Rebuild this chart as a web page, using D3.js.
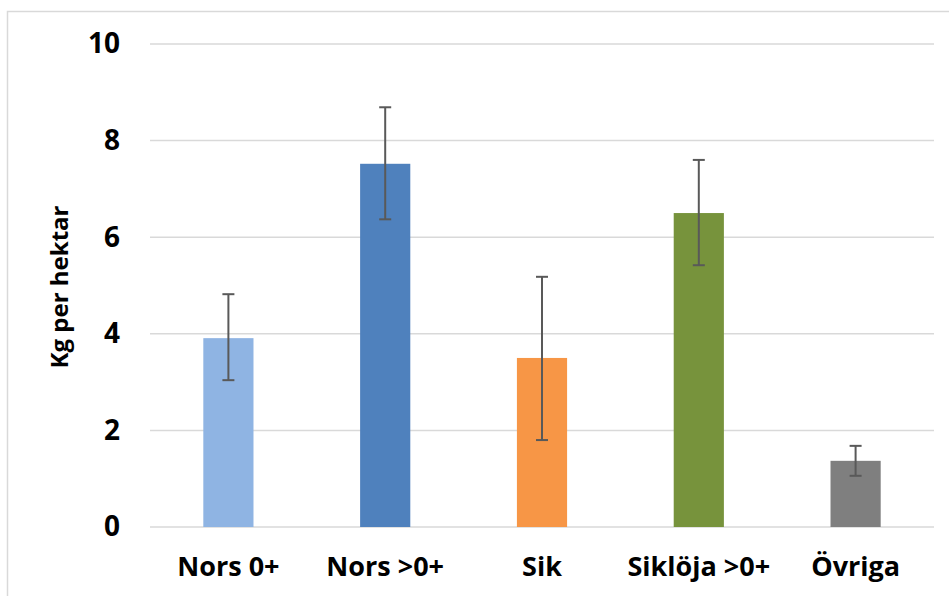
<!DOCTYPE html>
<html>
<head>
<meta charset="utf-8">
<script src="https://cdn.jsdelivr.net/npm/d3@7"></script>
<style>
  body { margin: 0; background: #fff; }
  svg { display: block; font-family: "Open Sans", "Liberation Sans", sans-serif; }
</style>
</head>
<body>
<div id="chart"></div>
<script>
// Data
const categories = ["Nors 0+", "Nors >0+", "Sik", "Siklöja >0+", "Övriga"];
const values = [3.91, 7.52, 3.50, 6.50, 1.37];
const errLow = [3.04, 6.37, 1.80, 5.42, 1.06];
const errHigh = [4.82, 8.69, 5.18, 7.60, 1.68];
const colors = ["#8fb4e3", "#4f81bd", "#f79646", "#77933c", "#7f7f7f"];
const yTicks = [0, 2, 4, 6, 8, 10];

const W = 949, H = 596;
const margin = { top: 44, right: 15, bottom: 69, left: 150 };
const width = W - margin.left - margin.right;
const height = H - margin.top - margin.bottom;
const font = "Open Sans, Liberation Sans, sans-serif";

const svg = d3.select("#chart").append("svg")
  .attr("width", W)
  .attr("height", H);

// outer chart border
svg.append("rect")
  .attr("x", 7.5).attr("y", 11.5)
  .attr("width", W).attr("height", H)
  .attr("fill", "none")
  .attr("stroke", "#d9d9d9")
  .attr("stroke-width", 1.5);

const g = svg.append("g")
  .attr("transform", `translate(${margin.left},${margin.top})`);

const x = d3.scaleBand().domain(categories).range([0, width]).paddingInner(0.68).paddingOuter(0.34);
const y = d3.scaleLinear().domain([0, 10]).range([height, 0]);

// gridlines
g.append("g").selectAll("line")
  .data(yTicks)
  .join("line")
    .attr("x1", 0).attr("x2", width)
    .attr("y1", d => y(d)).attr("y2", d => y(d))
    .attr("stroke", "#d9d9d9")
    .attr("stroke-width", 1.5);

// y axis labels
const yAxis = d3.axisLeft(y).tickValues(yTicks).tickSize(0).tickPadding(30);
g.append("g").call(yAxis)
  .call(s => s.select(".domain").remove())
  .selectAll("text")
    .attr("font-size", 28)
    .attr("font-weight", "bold")
    .attr("fill", "#000")
    .attr("font-family", font);

// x axis labels
const xAxis = d3.axisBottom(x).tickSize(0).tickPadding(30);
g.append("g")
  .attr("transform", `translate(0,${height})`)
  .call(xAxis)
  .call(s => s.select(".domain").remove())
  .selectAll("text")
    .attr("font-size", 27)
    .attr("font-weight", "bold")
    .attr("fill", "#000")
    .attr("font-family", font);

// bars
g.append("g").selectAll("rect")
  .data(categories)
  .join("rect")
    .attr("x", d => x(d))
    .attr("width", x.bandwidth())
    .attr("y", (d, i) => y(values[i]))
    .attr("height", (d, i) => y(0) - y(values[i]))
    .attr("fill", (d, i) => colors[i]);

// error bars
const eb = g.append("g").attr("stroke", "#595959").attr("stroke-width", 2);
categories.forEach((c, i) => {
  const cx = x(c) + x.bandwidth() / 2;
  eb.append("line")
    .attr("x1", cx).attr("x2", cx)
    .attr("y1", y(errLow[i])).attr("y2", y(errHigh[i]));
  [errLow[i], errHigh[i]].forEach(v => {
    eb.append("line")
      .attr("x1", cx - 6).attr("x2", cx + 6)
      .attr("y1", y(v)).attr("y2", y(v));
  });
});

// y axis title
svg.append("text")
  .attr("transform", `translate(68,287) rotate(-90)`)
  .attr("text-anchor", "middle")
  .attr("font-size", 24)
  .attr("font-weight", "bold")
  .attr("font-family", font)
  .text("Kg per hektar");
</script>
</body>
</html>
